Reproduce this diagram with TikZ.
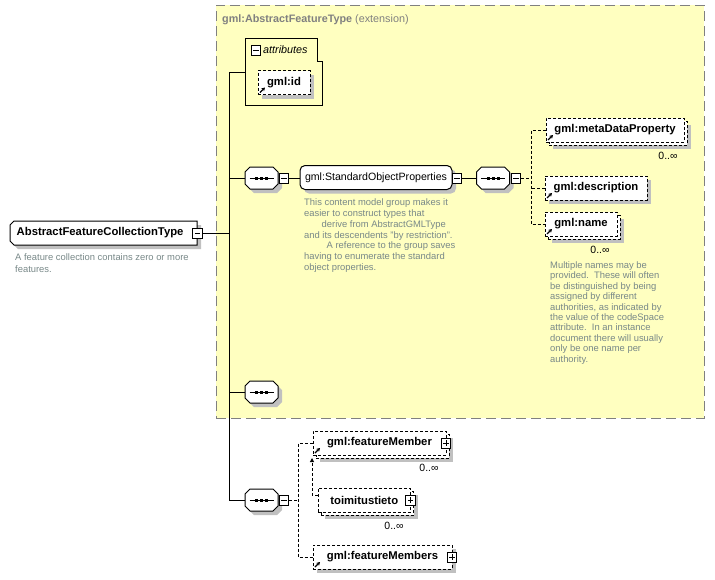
\documentclass[tikz,border=0pt]{standalone}
\usepackage{fontspec}
\setmainfont{Liberation Sans}
\usetikzlibrary{shadows,arrows.meta,calc}
\definecolor{yel}{RGB}{255,255,192}
\definecolor{shd}{RGB}{192,192,192}
\definecolor{bgray}{RGB}{128,128,128}
\definecolor{dgray}{RGB}{120,136,136}
\tikzset{
  lbl/.style={font=\fontsize{11.3}{13.5}\selectfont\bfseries},
  shad/.style={drop shadow={shadow xshift=4pt,shadow yshift=-4pt,fill=shd,opacity=1}},
  elemf/.style={draw=black,fill=white,line width=1pt,dash pattern=on 3pt off 2pt,inner sep=0pt,lbl,minimum height=24pt},
  elem/.style={elemf,shad},
  grp/.style={draw=black,fill=white,line width=1pt,rounded corners=5pt,inner sep=0pt,minimum width=152pt,minimum height=24pt,font=\fontsize{10.6}{12.5}\selectfont,shad},
  sbox/.style={draw=black,fill=white,line width=1pt,solid,minimum width=9.5pt,minimum height=10pt,inner sep=0pt},
  mbox/.style={sbox,path picture={\draw[line width=1pt] ([xshift=2pt]path picture bounding box.west) -- ([xshift=-2pt]path picture bounding box.east);}},
  pbox/.style={sbox,path picture={\draw[line width=1pt] ([xshift=2pt]path picture bounding box.west) -- ([xshift=-2pt]path picture bounding box.east); \draw[line width=1pt] ([yshift=-2pt]path picture bounding box.north) -- ([yshift=2pt]path picture bounding box.south);}},
  seqa/.style={draw=none,minimum width=33pt,minimum height=22pt,inner sep=0pt},
  dtext/.style={text=dgray,align=left,inner sep=0pt,anchor=north west},
  mult/.style={font=\fontsize{10.5}{12}\selectfont,inner sep=0pt},
  con/.style={line width=1pt},
  dcon/.style={line width=1pt,dash pattern=on 3pt off 2pt},
  extbox/.style={draw=bgray,fill=yel,line width=1pt,dash pattern=on 10pt off 5pt,minimum width=488pt,minimum height=413pt,inner sep=0pt},
  pics/octa/.style={code={
    \fill[shd] (-7.5,-7) -- (15.5,-7) -- (20.5,-2) -- (20.5,10) -- (15.5,15) -- (-7.5,15) -- (-12.5,10) -- (-12.5,-2) -- cycle;
    \filldraw[fill=white,draw=black,line width=1pt] (-11.5,-11) -- (11.5,-11) -- (16.5,-6) -- (16.5,6) -- (11.5,11) -- (-11.5,11) -- (-16.5,6) -- (-16.5,-6) -- cycle;
    \draw[line width=1pt] (-12,0) -- (12,0);
    \foreach \d in {-5,0,5} \fill (\d-1.5,-1.5) rectangle (\d+1.5,1.5);
  }}
}
\newcommand\xsref[1]{\draw[line width=1.2pt,-{Stealth[length=3.5pt,width=4pt]}] ([shift={(2.5pt,2.5pt)}]#1.south west) -- ++(5,-5);}
\begin{document}
\begin{tikzpicture}[x=1pt,y=-1pt]
\useasboundingbox (0,0) rectangle (715,579);
% extension area
\node[extbox] (ext) at (460,211.5) {};
\node[anchor=west,inner sep=0pt,text=bgray,font=\fontsize{10.8}{13}\selectfont] (hdr) at (222,19.5) {\textbf{gml:AbstractFeatureType} (extension)};
% main element
\fill[shd] (18,225) -- (201,225) -- (201,249) -- (18,249) -- (14,245) -- (14,229) -- cycle;
\filldraw[fill=white,draw=black,line width=1pt] (14,221) -- (197,221) -- (197,245) -- (14,245) -- (10,241) -- (10,225) -- cycle;
\node[lbl,anchor=west,inner sep=0pt] (main) at (16.5,233) {AbstractFeatureCollectionType};
\node[mbox] (m1) at (197.5,233) {};
\node[dtext,font=\fontsize{9.4}{11.5}\selectfont] (maind) at (15,253.6) {A feature collection contains zero or more\\features.};
% attributes
\draw[line width=1pt] (245,38) -- (317,38) -- (317,61) -- (322,61) -- (322,105) -- (245,105) -- cycle;
\node[mbox] (am) at (256,50.5) {};
\node[font=\fontsize{10.8}{13}\selectfont\itshape,anchor=west,inner sep=0pt] (attr) at (263,50) {attributes};
\coordinate (attrL) at (245,72);
\node[elem,minimum width=52pt] (gid) at (284,82.5) {gml:id};
\xsref{gid}
% sequence 1 and group
\node[seqa] (s1) at (261.5,178) {};
\pic at (s1.center) {octa};
\node[mbox] (m2) at (284,178) {};
\node[grp] (sop) at (376,177.5) {gml:StandardObjectProperties};
\node[mbox] (m3) at (457,178) {};
\node[dtext,font=\fontsize{9.4}{10.8}\selectfont] (sopd) at (304,198.6) {This content model group makes it\\easier to construct types that\\\hspace*{17.5pt}derive from AbstractGMLType\\and its descendents "by restriction".\\\hspace*{22.5pt}A reference to the group saves\\having to enumerate the standard\\object properties.};
% sequence 2
\node[seqa] (s2) at (493,178) {};
\pic at (s2.center) {octa};
\node[mbox] (m4) at (516,178) {};
\coordinate (bT) at (531,130);
\coordinate (bB) at (531,224);
\node[elem,minimum width=138pt] (mdpb) at (618,133) {};
\node[elemf,minimum width=138pt] (mdp) at (615,130) {gml:metaDataProperty};
\xsref{mdp}
\node[mult] (mdpm) at (668,156) {0..∞};
\node[elem,minimum width=102pt] (dsc) at (596,188) {gml:description};
\xsref{dsc}
\node[elem,minimum width=72pt] (nmb) at (584,227) {};
\node[elemf,minimum width=72pt] (nm) at (581,224) {gml:name};
\xsref{nm}
\node[mult] (nmm) at (600,250) {0..∞};
\node[dtext,font=\fontsize{9.4}{10.4}\selectfont] (nmd) at (550,261.4) {Multiple names may be\\provided.\ \ These will often\\be distinguished by being\\assigned by different\\authorities, as indicated by\\the value of the codeSpace\\attribute.\ \ In an instance\\document there will usually\\only be one name per\\authority.};
% sequence 3
\node[seqa] (s3) at (261.5,392) {};
\pic at (s3.center) {octa};
% sequence 4
\node[seqa] (s4) at (261.5,500) {};
\pic at (s4.center) {octa};
\node[mbox] (m5) at (284,500) {};
\coordinate (cT) at (298,443);
\coordinate (cB) at (298,557);
\node[elem,minimum width=133pt] (fmb) at (382.5,446) {};
\node[elemf,minimum width=133pt] (fm) at (379.5,443) {gml:featureMember};
\xsref{fm}
\node[pbox] (p1) at (446,443) {};
\node[mult] (fmm) at (429,468) {0..∞};
\node[elem,minimum width=92.5pt] (ttb) at (367.25,503) {};
\node[elemf,minimum width=92.5pt] (tt) at (364.25,500) {toimitustieto};
\node[pbox] (p2) at (410.5,500) {};
\node[mult] (ttm) at (394,525.5) {0..∞};
\node[elem,minimum width=139pt] (fms) at (382.5,557) {gml:featureMembers};
\xsref{fms}
\node[pbox] (p3) at (452,557) {};
% connectors
\coordinate (tk) at (229,233);
\draw[con] (m1.east) -- (tk);
\draw[con] (attrL) -- (attrL -| tk) -- (s4.west -| tk) -- (s4.west);
\draw[con] (s1.west -| tk) -- (s1.west);
\draw[con] (s3.west -| tk) -- (s3.west);
\draw[con] (m2.east) -- (m2.east -| sop.west);
\draw[con] (m3.east) -- (s2.west);
\draw[dcon] (m4.east) -- (m4.east -| bT);
\draw[dcon] (mdp.west) -- (bT) -- (bB) -- (nm.west);
\draw[dcon] (dsc.west) -- (dsc.west -| bT);
\draw[dcon] (m5.east) -- (m5.east -| cT);
\draw[dcon] (fm.west) -- (cT) -- (cB) -- (fms.west);
\draw[dcon,-{Triangle[length=4pt,width=4pt]}] ([yshift=5pt]tt.west) -- ++(-5.5,0) -- ++(0,-37);
\end{tikzpicture}
\end{document}
